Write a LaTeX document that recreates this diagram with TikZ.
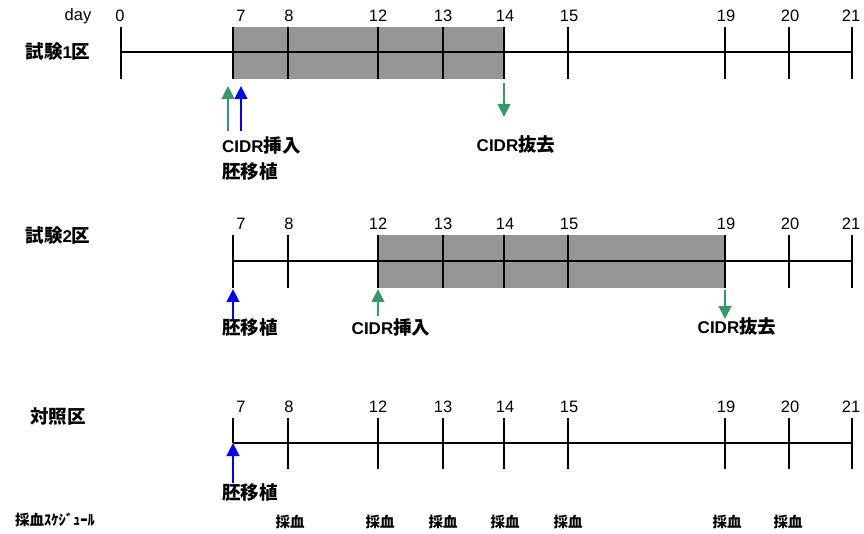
\documentclass[tikz,border=0pt]{standalone}
\usepackage{fontspec}
\usetikzlibrary{arrows.meta}
\newfontfamily\latf{Liberation Sans}
\newfontfamily\jpf{Noto Sans CJK JP}
\newcommand{\lt}[1]{{\latf\fontsize{17}{17}\selectfont #1}}
\definecolor{cgreen}{RGB}{51,153,102}
\definecolor{cblue}{RGB}{0,0,255}
\definecolor{cgray}{RGB}{150,150,150}
\begin{document}
\begin{tikzpicture}[x=1pt,y=-1pt,
  tickline/.style={line width=2.2pt},
  axisline/.style={line width=1.6pt},
  num/.style={font=\latf\fontsize{16.5}{16.5}\selectfont, inner sep=0pt},
  jlab/.style={font=\jpf\bfseries\fontsize{18.5}{18.5}\selectfont, inner sep=0pt},
  slab/.style={font=\jpf\bfseries\fontsize{14.5}{14.5}\selectfont, inner sep=0pt},
  arr/.style={line width=2.6pt, -{Triangle[width=12.5pt,length=13pt]}},
  period/.style={fill=cgray, draw=none}]
\useasboundingbox (0,0) rectangle (864,534);

% ---------- row 1 ----------
\coordinate (p1a) at (233,27);
\coordinate (p1b) at (504,79);
\fill[period] (p1a) rectangle (p1b);
\node[num] (day) at (78,16) {day};
\node[jlab] (row1) at (58,52) {試験\lt{1}区};
\foreach \d/\x/\lx in {0/121/120,7/233/241,8/288/289,12/378/378,13/443/443,14/504/505,15/568/569,19/725/726,20/789/790,21/852/851}{
  \coordinate (a\d t) at (\x,27);
  \coordinate (a\d b) at (\x,79);
  \coordinate (a\d m) at (\x,52);
  \node[num] (a\d n) at (\lx,16) {\d};
  \draw[tickline] (a\d t) -- (a\d b);
}
\draw[axisline] (a0m) -- (a21m);
\coordinate (g1s) at (228,131); \coordinate (g1e) at (228,86);
\coordinate (b1s) at (241,131); \coordinate (b1e) at (241,86);
\draw[arr,cgreen] (g1s) -- (g1e);
\draw[arr,cblue] (b1s) -- (b1e);
\coordinate (g2s) at (504,83); \coordinate (g2e) at (504,117);
\draw[arr,cgreen] (g2s) -- (g2e);
\node[jlab,anchor=west] (ins1) at (222,145) {\lt{CIDR}挿入};
\node[jlab,anchor=west] (emb1) at (222,172) {胚移植};
\node[jlab] (rem1) at (516,145) {\lt{CIDR}抜去};

% ---------- row 2 ----------
\coordinate (p2a) at (378,235);
\coordinate (p2b) at (725,288);
\fill[period] (p2a) rectangle (p2b);
\node[jlab] (row2) at (58,235) {試験\lt{2}区};
\foreach \d/\x/\lx in {7/233/241,8/288/289,12/378/378,13/443/443,14/504/505,15/568/569,19/725/726,20/789/790,21/852/851}{
  \coordinate (c\d t) at (\x,235);
  \coordinate (c\d b) at (\x,288);
  \coordinate (c\d m) at (\x,261);
  \node[num] (c\d n) at (\lx,224) {\d};
  \draw[tickline] (c\d t) -- (c\d b);
}
\draw[axisline] (c7m) -- (c21m);
\coordinate (b2s) at (233,320); \coordinate (b2e) at (233,289);
\draw[arr,cblue] (b2s) -- (b2e);
\coordinate (g3s) at (378,316); \coordinate (g3e) at (378,289);
\draw[arr,cgreen] (g3s) -- (g3e);
\coordinate (g4s) at (725,290); \coordinate (g4e) at (725,319);
\draw[arr,cgreen] (g4s) -- (g4e);
\node[jlab,anchor=west] (emb2) at (222,328) {胚移植};
\node[jlab] (ins2) at (391,327) {\lt{CIDR}挿入};
\node[jlab] (rem2) at (737,327) {\lt{CIDR}抜去};

% ---------- row 3 ----------
\node[jlab] (row3) at (58,417) {対照区};
\foreach \d/\x/\lx in {7/233/241,8/288/289,12/378/378,13/443/443,14/504/505,15/568/569,19/725/726,20/789/790,21/852/851}{
  \coordinate (e\d t) at (\x,418);
  \coordinate (e\d b) at (\x,469);
  \coordinate (e\d m) at (\x,443);
  \node[num] (e\d n) at (\lx,407) {\d};
}
\foreach \d in {8,12,13,14,15,19,20,21}{ \draw[tickline] (e\d t) -- (e\d b); }
\draw[tickline] (e7t) -- (e7m);
\draw[axisline] (e7m) -- (e21m);
\coordinate (b3s) at (233,483);
\draw[arr,cblue] (b3s) -- (e7m);
\node[jlab,anchor=west] (emb3) at (222,493) {胚移植};

% ---------- sampling schedule ----------
\node[slab] (sched) at (55,520) {採血ｽｹｼﾞｭｰﾙ};
\foreach \x [count=\i] in {290,380,443,505,568,727,788}{
  \node[slab] (s\i) at (\x,522) {採血};
}
\end{tikzpicture}
\end{document}
